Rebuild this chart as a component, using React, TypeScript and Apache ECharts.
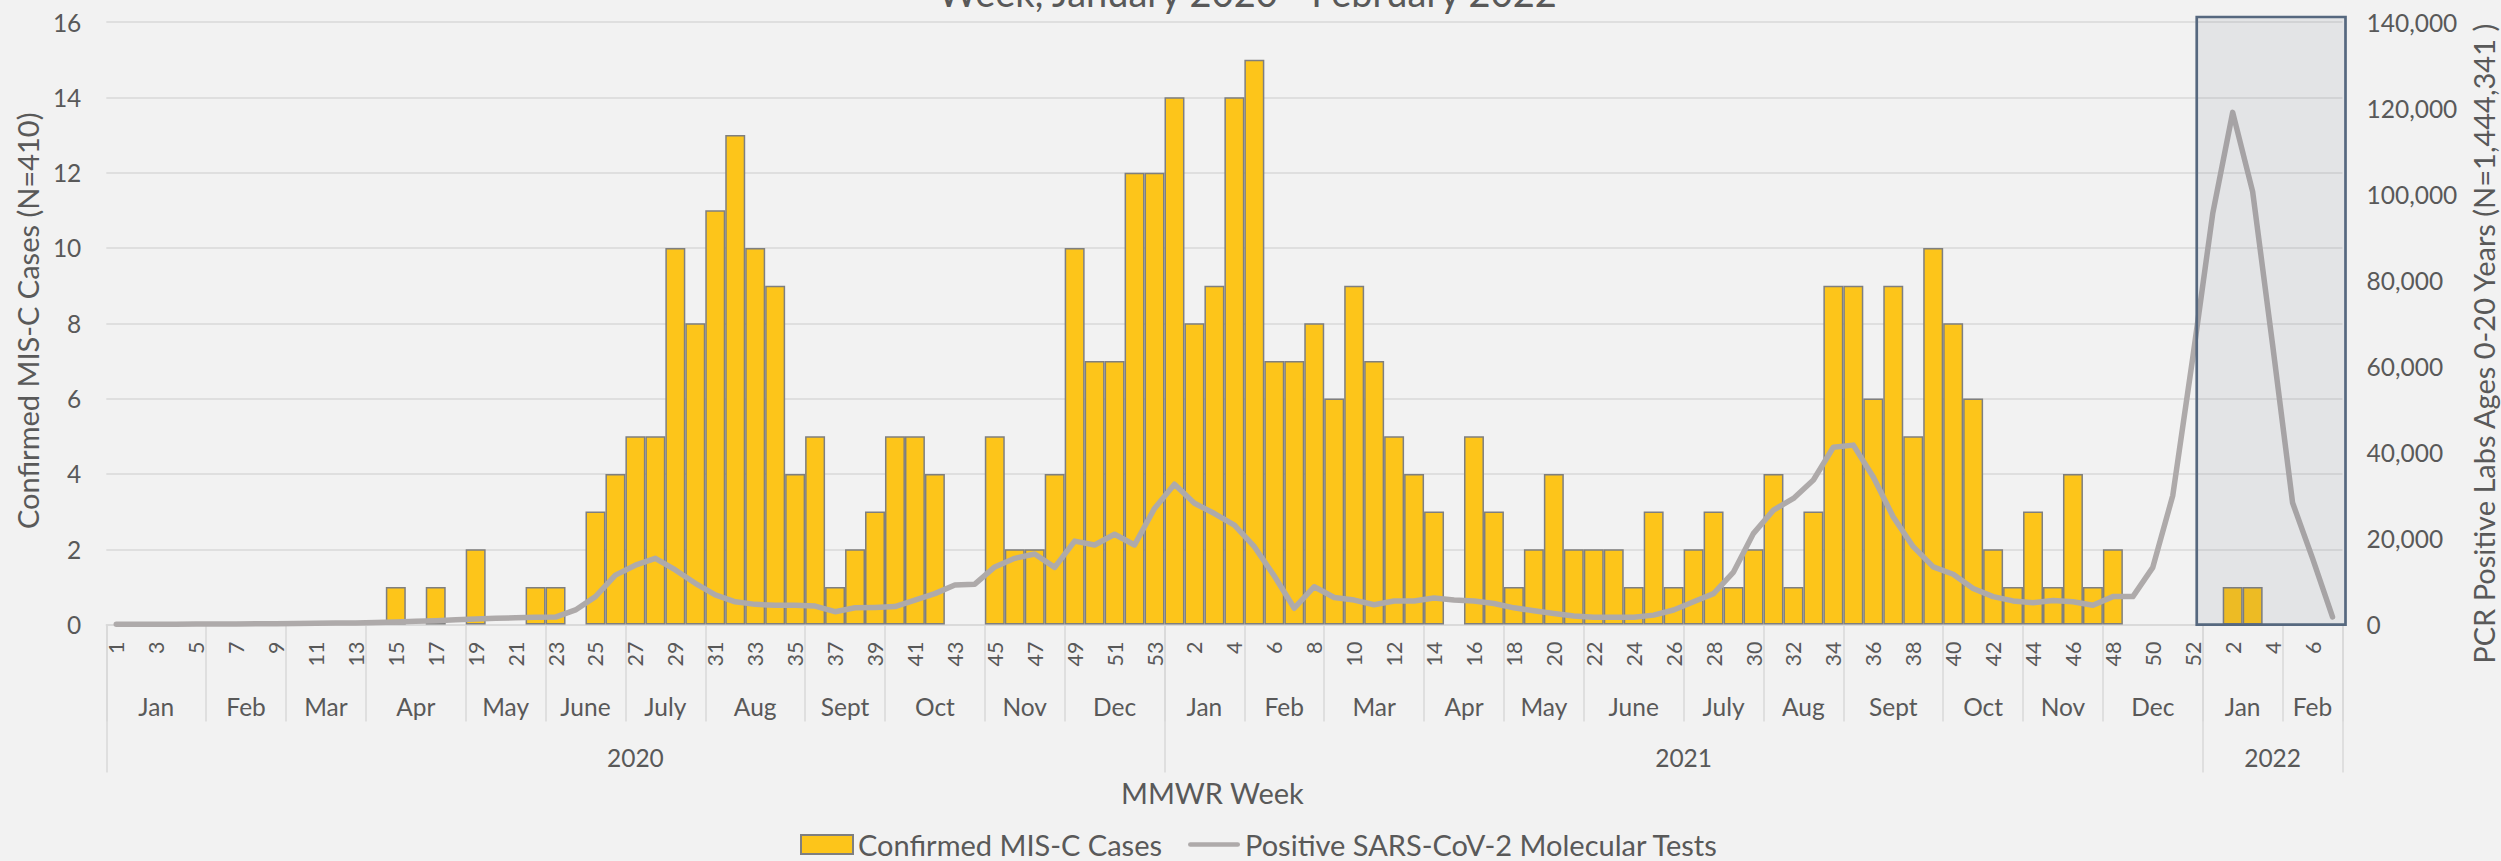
import React, { useEffect, useRef } from "react";
import * as echarts from "echarts";

// ---------- data ----------
const years = ["2020", "2021", "2022"];
const weeksPerYear = [53, 52, 7];

const monthNames = [
  "Jan", "Feb", "Mar", "Apr", "May", "June", "July", "Aug", "Sept", "Oct", "Nov", "Dec",
  "Jan", "Feb", "Mar", "Apr", "May", "June", "July", "Aug", "Sept", "Oct", "Nov", "Dec",
  "Jan", "Feb",
];
const monthWeeks = [
  5, 4, 4, 5, 4, 4, 4, 5, 4, 5, 4, 5,
  4, 4, 5, 4, 4, 5, 4, 4, 5, 4, 4, 5,
  4, 3,
];

// Confirmed MIS-C cases per MMWR week
const cases2020 = [
  0, 0, 0, 0, 0, 0, 0, 0, 0, 0, 0, 0, 0, 0, 1, 0, 1, 0, 2, 0, 0, 1, 1, 0, 3, 4, 5, 5, 10, 8,
  11, 13, 10, 9, 4, 5, 1, 2, 3, 5, 5, 4, 0, 0, 5, 2, 2, 4, 10, 7, 7, 12, 12,
];
const cases2021 = [
  14, 8, 9, 14, 15, 7, 7, 8, 6, 9, 7, 5, 4, 3, 0, 5, 3, 1, 2, 4, 2, 2, 2, 1, 3, 1, 2, 3, 1, 2,
  4, 1, 3, 9, 9, 6, 9, 5, 10, 8, 6, 2, 1, 3, 1, 4, 1, 2, 0, 0, 0, 0,
];
const cases2022 = [0, 1, 1, 0, 0, 0, 0];

// Positive SARS-CoV-2 molecular tests, ages 0-20
const tests2020 = [
  100, 100, 100, 100, 150, 150, 150, 200, 200, 250, 300, 350, 400, 500, 600, 750, 900, 1100,
  1300, 1450, 1600, 1700, 1750, 3400, 6500, 11500, 13800, 15400, 12700, 9600, 6900, 5300, 4700,
  4500, 4500, 4300, 3000, 3900, 4000, 4200, 5700, 7200, 9200, 9400, 13400, 15400, 16400, 13300,
  19400, 18500, 21000, 18500, 27000,
];
const tests2021 = [
  32600, 28200, 25800, 23100, 18100, 11300, 3800, 8800, 6300, 5700, 4600, 5500, 5500, 6200,
  5700, 5500, 4900, 3900, 3200, 2600, 2000, 1700, 1700, 1700, 2200, 3400, 5300, 7200, 12200,
  21200, 26600, 29300, 33600, 41200, 41700, 34300, 25000, 18100, 13400, 11700, 8400, 6500,
  5500, 5100, 5600, 5300, 4500, 6500, 6500, 13300, 30000, 62000,
];
const tests2022 = [95500, 119000, 100600, 65000, 28300, 15400, 1800];

const leftAxis = { min: 0, max: 16, interval: 2 };
const rightAxis = { min: 0, max: 140000, interval: 20000 };

const seriesNames = ["Confirmed MIS-C Cases", "Positive SARS-CoV-2 Molecular Tests"];
const titleText = "Week, January 2020 - February 2022";
const xTitle = "MMWR Week";
const leftTitle = "Confirmed MIS-C Cases (N=410)";
const rightTitle = "PCR Positive Labs Ages 0-20 Years (N=1,444,341 )";

// ---------- derived ----------
const weekCats: string[] = [];
const weekNums: number[] = [];
years.forEach((y, yi) => {
  for (let w = 1; w <= weeksPerYear[yi]; w++) {
    weekCats.push(`${y}-W${w}`);
    weekNums.push(w);
  }
});
const totalWeeks = weekCats.length;
const casesAll = [...cases2020, ...cases2021, ...cases2022].map((v) => (v === 0 ? null : v));
const testsAll = [...tests2020, ...tests2021, ...tests2022];

const halfCats = Array.from({ length: totalWeeks * 2 + 1 }, (_, i) => `h${i}`);
const monthBounds = new Set<number>();
const monthMid = new Map<number, string>();
{
  let acc = 0;
  monthNames.forEach((m, i) => {
    monthBounds.add(acc * 2);
    monthMid.set(acc * 2 + monthWeeks[i], m);
    acc += monthWeeks[i];
  });
  monthBounds.add(acc * 2);
}
const yearBounds = new Set<number>();
const yearMid = new Map<number, string>();
{
  let acc = 0;
  years.forEach((y, i) => {
    yearBounds.add(acc * 2);
    yearMid.set(acc * 2 + weeksPerYear[i], y);
    acc += weeksPerYear[i];
  });
  yearBounds.add(acc * 2);
}

const FONT = "Lato, 'Open Sans', sans-serif";
const TXT = "#595959";
const GRID = "#d9d9d9";
const LINE = "#aeaaaa";

export default function App() {
  const ref = useRef<HTMLDivElement>(null);
  useEffect(() => {
    if (!ref.current) return;
    const chart = echarts.init(ref.current, undefined, { renderer: "svg" });
    const option: any = {
      animation: false,
      backgroundColor: "#f2f2f2",
      textStyle: { fontFamily: FONT },
      grid: { left: 106.3, right: 158.5, top: 22, bottom: 236.4, containLabel: false },
      legend: {
        left: 800,
        top: 830,
        padding: 0,
        itemWidth: 52,
        itemHeight: 19,
        itemGap: 26,
        textStyle: { fontSize: 29, color: TXT, fontFamily: FONT },
        data: [
          { name: seriesNames[0], icon: "rect" },
          {
            name: seriesNames[1],
            icon: "path://M2.5,0 L52.5,0 A2.5,2.5 0 0 1 52.5,5 L2.5,5 A2.5,2.5 0 0 1 2.5,0 Z",
            itemStyle: { color: LINE, borderWidth: 0 },
          },
        ],
      },
      xAxis: [
        {
          type: "category",
          position: "bottom",
          data: weekCats,
          axisLine: { show: true, lineStyle: { color: GRID, width: 1.5 } },
          axisTick: { show: false },
          axisLabel: {
            rotate: 90,
            interval: 1,
            margin: 17,
            fontSize: 21.5,
            color: TXT,
            fontFamily: FONT,
            formatter: (_v: string, i: number) => String(weekNums[i]),
          },
          splitLine: { show: false },
        },
        {
          type: "category",
          position: "bottom",
          data: halfCats,
          boundaryGap: false,
          axisLine: { show: false },
          axisTick: {
            show: true,
            interval: (i: number) => monthBounds.has(i),
            length: 97,
            lineStyle: { color: GRID, width: 1.5 },
          },
          axisLabel: {
            interval: (i: number) => monthMid.has(i),
            formatter: (_v: string, i: number) => monthMid.get(i) || "",
            margin: 69,
            fontSize: 24.5,
            color: TXT,
            fontFamily: FONT,
          },
          splitLine: { show: false },
        },
        {
          type: "category",
          position: "bottom",
          data: halfCats,
          boundaryGap: false,
          axisLine: { show: false },
          axisTick: {
            show: true,
            interval: (i: number) => yearBounds.has(i),
            length: 148,
            lineStyle: { color: GRID, width: 1.5 },
          },
          axisLabel: {
            interval: (i: number) => yearMid.has(i),
            formatter: (_v: string, i: number) => yearMid.get(i) || "",
            margin: 120,
            fontSize: 24.5,
            color: TXT,
            fontFamily: FONT,
          },
          splitLine: { show: false },
        },
      ],
      yAxis: [
        {
          type: "value",
          position: "left",
          min: leftAxis.min,
          max: leftAxis.max,
          interval: leftAxis.interval,
          axisLine: { show: false },
          axisTick: { show: false },
          axisLabel: { margin: 25, fontSize: 24.5, color: TXT, fontFamily: FONT },
          splitLine: { show: true, lineStyle: { color: GRID, width: 1.5 } },
        },
        {
          type: "value",
          position: "right",
          min: rightAxis.min,
          max: rightAxis.max,
          interval: rightAxis.interval,
          axisLine: { show: false },
          axisTick: { show: false },
          axisLabel: {
            margin: 24,
            fontSize: 24.5,
            color: TXT,
            fontFamily: FONT,
            formatter: (v: number) => v.toLocaleString("en-US"),
          },
          splitLine: { show: false },
        },
      ],
      series: [
        {
          name: seriesNames[0],
          type: "bar",
          xAxisIndex: 0,
          yAxisIndex: 0,
          data: casesAll,
          barCategoryGap: "0%",
          itemStyle: { color: "#fdc51a", borderColor: "#7f7f7f", borderWidth: 1.5 },
          z: 2,
        },
        {
          name: seriesNames[1],
          type: "line",
          xAxisIndex: 0,
          yAxisIndex: 1,
          data: testsAll,
          symbol: "none",
          showSymbol: false,
          smooth: false,
          lineStyle: { color: LINE, width: 5.5, cap: "round", join: "round" },
          itemStyle: { color: LINE },
          z: 3,
        },
      ],
    };
    chart.setOption(option);

    const xa = (i: number) => chart.convertToPixel({ xAxisIndex: 0 }, weekCats[i]) as number;
    const band = xa(1) - xa(0);
    const start2022 = weeksPerYear[0] + weeksPerYear[1];
    const boxLeft = xa(start2022) - band / 2 - 6;
    const boxRight = xa(totalWeeks - 1) + band / 2 + 3;
    const yTop = (chart.convertToPixel({ yAxisIndex: 0 }, leftAxis.max) as number) - 5;
    const yBot = chart.convertToPixel({ yAxisIndex: 0 }, 0) as number;
    const plotLeft = xa(0) - band / 2;
    const plotRight = xa(totalWeeks - 1) + band / 2;
    const plotMidY = (yTop + yBot) / 2;

    chart.setOption({
      graphic: [
        {
          type: "rect",
          z: 50,
          silent: true,
          shape: { x: boxLeft, y: yTop, width: boxRight - boxLeft, height: yBot - yTop },
          style: { fill: "rgba(102,112,132,0.1)", stroke: "#56687f", lineWidth: 2.7 },
        },
        {
          type: "text",
          x: (plotLeft + plotRight) / 2 + 23,
          y: -8,
          style: {
            text: titleText,
            fill: TXT,
            font: `38px ${FONT}`,
            textAlign: "center",
            textVerticalAlign: "middle",
          },
        },
        {
          type: "text",
          x: (plotLeft + plotRight) / 2 - 12,
          y: 792,
          style: {
            text: xTitle,
            fill: TXT,
            font: `29px ${FONT}`,
            textAlign: "center",
            textVerticalAlign: "middle",
          },
        },
        {
          type: "text",
          x: 27,
          y: plotMidY,
          rotation: Math.PI / 2,
          style: {
            text: leftTitle,
            fill: TXT,
            font: `29px ${FONT}`,
            textAlign: "center",
            textVerticalAlign: "middle",
          },
        },
        {
          type: "text",
          x: 2483,
          y: plotMidY + 23,
          rotation: Math.PI / 2,
          style: {
            text: rightTitle,
            fill: TXT,
            font: `29px ${FONT}`,
            textAlign: "center",
            textVerticalAlign: "middle",
          },
        },
      ],
    });

    return () => chart.dispose();
  }, []);

  return (
    <div
      ref={ref}
      style={{ position: "fixed", left: 0, top: 0, width: 2501, height: 861, background: "#f2f2f2" }}
    />
  );
}
